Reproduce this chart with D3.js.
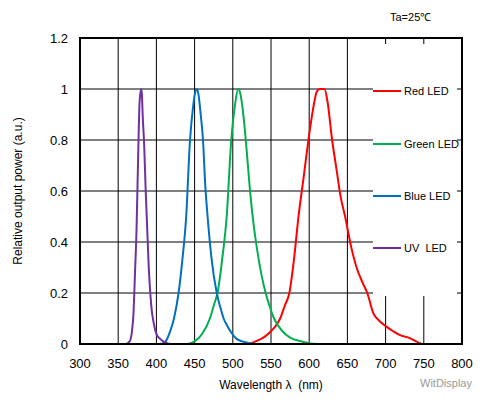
<!DOCTYPE html>
<html><head><meta charset="utf-8">
<script src="https://cdn.jsdelivr.net/npm/d3@7"></script>
<style>body{margin:0;background:#fff}text{font-family:"Liberation Sans",Arial,sans-serif;fill:#000}</style>
</head><body><svg id="c" width="487" height="404"></svg>
<script>
const xTicks=[300,350,400,450,500,550,600,650,700,750,800];
const yTicks=[0,0.2,0.4,0.6,0.8,1,1.2];
const seriesNames=["Red LED","Green LED","Blue LED","UV  LED"];
const seriesColors=["#ff0000","#00b050","#0070c0","#7030a0"];
const redData=[[300,0],[520,0],[530,0.01],[540,0.025],[550,0.05],[556,0.07],[562,0.1],[568,0.15],[574,0.2],[580,0.33],[586,0.5],[593,0.66],[599,0.8],[605,0.92],[610,0.99],[614,1.0],[620,1.0],[624,0.95],[630,0.8],[636,0.68],[641,0.58],[647,0.5],[655,0.38],[662,0.3],[670,0.24],[676,0.2],[684,0.12],[692,0.09],[701,0.068],[710,0.05],[719,0.035],[730,0.025],[740,0.01],[748,0],[800,0]];
const greenData=[[300,0],[440,0],[450,0.01],[460,0.04],[470,0.1],[476,0.16],[480,0.2],[486,0.33],[492,0.5],[498,0.8],[503,0.94],[507,1.0],[510,0.98],[513,0.92],[517,0.8],[522,0.62],[526,0.5],[534,0.33],[543,0.2],[548,0.15],[554,0.1],[565,0.05],[575,0.025],[590,0.01],[610,0],[800,0]];
const blueData=[[300,0],[405,0],[412,0.01],[418,0.05],[423,0.1],[429,0.2],[434,0.33],[439,0.5],[444,0.8],[448,0.93],[451,0.99],[453,1.0],[455,0.98],[458,0.9],[461,0.8],[464,0.62],[467,0.5],[472,0.34],[479,0.2],[484,0.14],[488,0.1],[493,0.07],[498,0.045],[505,0.02],[515,0.008],[530,0],[800,0]];
const uvData=[[300,0],[360,0],[365,0.01],[368,0.05],[370,0.12],[372,0.28],[374,0.45],[376,0.72],[378,0.95],[380,1.0],[381,0.98],[382,0.9],[384,0.78],[386,0.6],[388,0.45],[390,0.3],[392,0.2],[394,0.13],[396,0.09],[400,0.04],[405,0.02],[412,0.005],[420,0],[800,0]];
const allData=[redData,greenData,blueData,uvData];

const svg=d3.select("#c");
const L=80,R=462,T=38,B=344;
const x=d3.scaleLinear().domain([300,800]).range([L,R]);
const y=d3.scaleLinear().domain([0,1.2]).range([B,T]);
const g=svg.append("g");
// grid
g.selectAll(".vg").data(xTicks.slice(1,-1)).join("line").attr("x1",d=>x(d)).attr("x2",d=>x(d)).attr("y1",T).attr("y2",B).attr("stroke","#000").attr("stroke-width",1);
g.selectAll(".hg").data(yTicks.slice(1,-1)).join("line").attr("x1",L).attr("x2",R).attr("y1",d=>y(d)).attr("y2",d=>y(d)).attr("stroke","#000").attr("stroke-width",1);
// legend background
g.append("rect").attr("x",373).attr("y",44).attr("width",84).attr("height",252).attr("fill","#fff");
// curves
const line=d3.line().x(d=>x(d[0])).y(d=>y(d[1])).curve(d3.curveMonotoneX);
allData.forEach((d,i)=>g.append("path").attr("d",line(d)).attr("fill","none").attr("stroke",seriesColors[i]).attr("stroke-width",2));
// frame
g.append("rect").attr("x",L).attr("y",T).attr("width",R-L).attr("height",B-T).attr("fill","none").attr("stroke","#000").attr("stroke-width",2);
// axes labels
g.selectAll(".xl").data(xTicks).join("text").attr("x",d=>x(d)).attr("y",368).attr("text-anchor","middle").attr("font-size",13).text(d=>d);
g.selectAll(".yl").data(yTicks).join("text").attr("x",68).attr("y",d=>y(d)+5).attr("text-anchor","end").attr("font-size",13).text(d=>d);
// legend
const legY=[91,144,196,248];
seriesNames.forEach((n,i)=>{
  g.append("line").attr("x1",373).attr("x2",401).attr("y1",legY[i]).attr("y2",legY[i]).attr("stroke",seriesColors[i]).attr("stroke-width",2);
  g.append("text").attr("x",404).attr("y",legY[i]+4).attr("font-size",11).attr("xml:space","preserve").text(n);
});
svg.append("text").attr("x",271).attr("y",389).attr("text-anchor","middle").attr("font-size",12).attr("xml:space","preserve").text("Wavelength λ  (nm)");
svg.append("text").attr("transform","translate(22,191) rotate(-90)").attr("text-anchor","middle").attr("font-size",12).text("Relative output power (a.u.)");
svg.append("text").attr("x",390).attr("y",21).attr("font-size",11).text("Ta=25℃");
svg.append("text").attr("x",420).attr("y",387).attr("font-size",11).style("fill","#999").text("WitDisplay");
</script></body></html>
